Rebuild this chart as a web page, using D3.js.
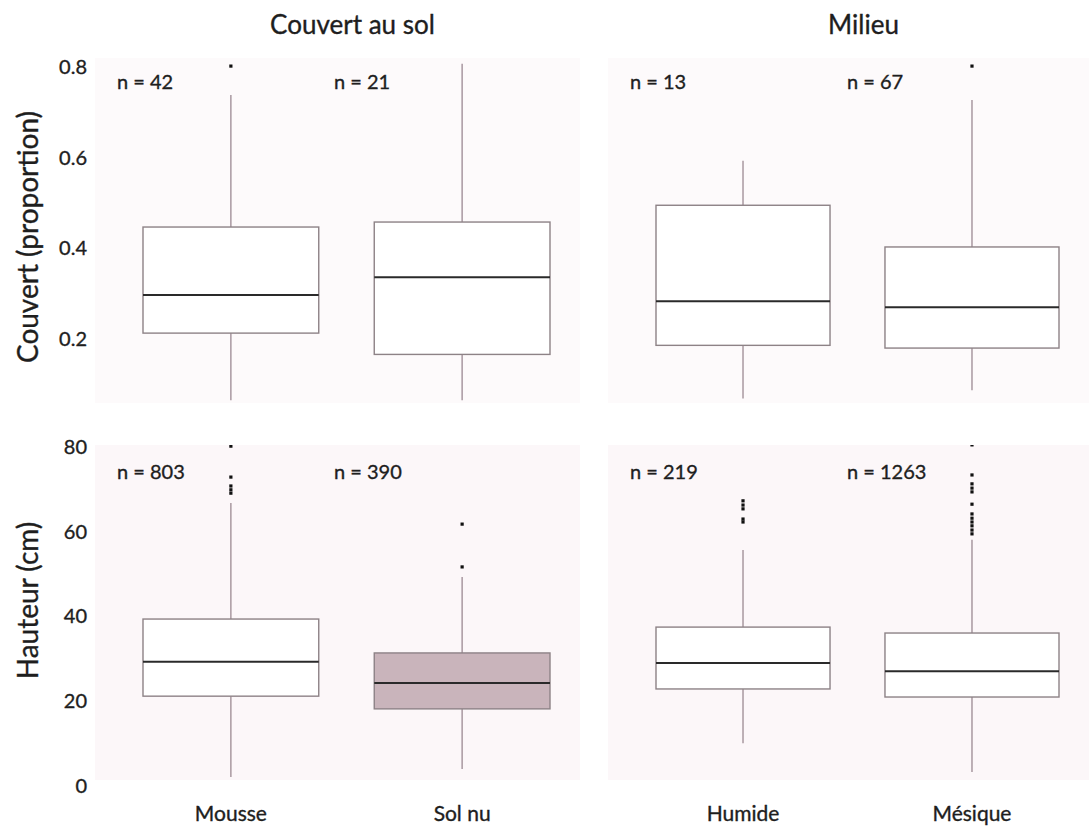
<!DOCTYPE html>
<html>
<head>
<meta charset="utf-8">
<script src="https://cdn.jsdelivr.net/npm/d3@7"></script>
<style>
  html, body { margin: 0; padding: 0; background: #ffffff; }
  svg { display: block; font-family: Lato, "Open Sans", sans-serif; }
  text { stroke: #1e1e1e; stroke-width: 0.35px; }
</style>
</head>
<body>
<svg id="chart" width="1089" height="827"></svg>
<script>
// ---------------- data ----------------
const groupTitles = ["Couvert au sol", "Milieu"];
const categoriesSol = ["Mousse", "Sol nu"];
const categoriesMilieu = ["Humide", "Mésique"];
const highlighted = ["Sol nu"]; // shaded box in lower panel

// Couvert (proportion) — order: Mousse, Sol nu, Humide, Mésique
const couvertN = [42, 21, 13, 67];
const couvertLow = [0.065, 0.065, 0.069, 0.087];
const couvertQ1 = [0.213, 0.166, 0.186, 0.180];
const couvertMedian = [0.297, 0.336, 0.283, 0.270];
const couvertQ3 = [0.447, 0.458, 0.495, 0.403];
const couvertHigh = [0.738, 0.807, 0.593, 0.727];
const couvertOutliers = [[0.802], [], [], [0.802]];
const couvertTicks = [0.2, 0.4, 0.6, 0.8];

// Hauteur (cm)
const hauteurN = [803, 390, 219, 1263];
const hauteurLow = [2.1, 4.0, 10.1, 3.3];
const hauteurQ1 = [21.2, 18.2, 22.9, 21.0];
const hauteurMedian = [29.3, 24.3, 29.0, 27.1];
const hauteurQ3 = [39.4, 31.4, 37.5, 36.1];
const hauteurHigh = [66.8, 49.3, 55.7, 58.1];
const hauteurOutliers = [
  [80.2, 72.9, 70.8, 69.9, 69.1],
  [61.8, 51.7],
  [67.3, 66.3, 65.4, 63.0, 62.3],
  [80.5, 73.4, 71.3, 70.3, 69.4, 66.5, 64.2, 63.2, 62.3, 61.4, 60.4, 59.5]
];
const hauteurTicks = [0, 20, 40, 60, 80];

// ---------------- layout ----------------
const svg = d3.select("#chart");
const allCats = categoriesSol.concat(categoriesMilieu);
const panelCols = [
  { cats: categoriesSol, left: 95, right: 580, title: groupTitles[0] },
  { cats: categoriesMilieu, left: 608, right: 1089, title: groupTitles[1] }
];
const rows = [
  {
    name: "Couvert (proportion)", top: 58, bottom: 403, bg: "#fdfafb",
    y: d3.scaleLinear().domain([0.2, 0.8]).range([339, 67]),
    ticks: couvertTicks, fmt: d3.format(".1f"),
    n: couvertN, low: couvertLow, q1: couvertQ1, med: couvertMedian,
    q3: couvertQ3, high: couvertHigh, out: couvertOutliers, shade: false
  },
  {
    name: "Hauteur (cm)", top: 445, bottom: 780, bg: "#fcf7f9",
    y: d3.scaleLinear().domain([0, 80]).range([786, 447]),
    ticks: hauteurTicks, fmt: d3.format("d"),
    n: hauteurN, low: hauteurLow, q1: hauteurQ1, med: hauteurMedian,
    q3: hauteurQ3, high: hauteurHigh, out: hauteurOutliers, shade: true
  }
];

const textColor = "#1e1e1e";
const boxStroke = "#8d8286";
const whiskerColor = "#a2919a";

const defs = svg.append("defs");

rows.forEach((row, ri) => {
  // y axis tick labels
  const axis = d3.axisLeft(row.y).tickValues(row.ticks).tickFormat(row.fmt)
    .tickSize(0).tickPadding(0);
  const ag = svg.append("g").attr("transform", "translate(87,0)").call(axis);
  ag.select(".domain").remove();
  ag.selectAll("text").attr("fill", textColor).style("font-size", "20px")
    .style("font-family", "Lato, 'Open Sans', sans-serif");

  // y axis title
  const midY = (row.y.range()[0] + row.y.range()[1]) / 2 + (ri === 0 ? 34 : -16);
  svg.append("text")
    .attr("transform", `translate(38,${midY}) rotate(-90)`)
    .attr("text-anchor", "middle")
    .attr("fill", textColor)
    .style("font-size", "28px")
    .text(row.name);

  panelCols.forEach((col, ci) => {
    const clipId = `clip-${ri}-${ci}`;
    defs.append("clipPath").attr("id", clipId).append("rect")
      .attr("x", col.left).attr("y", row.top)
      .attr("width", col.right - col.left).attr("height", row.bottom - row.top);

    // panel background (faint pink)
    svg.append("rect")
      .attr("x", col.left).attr("y", row.top)
      .attr("width", col.right - col.left).attr("height", row.bottom - row.top)
      .attr("fill", row.bg);

    const x = d3.scaleBand().domain(col.cats)
      .range([col.left + 48, col.right - 30]).paddingInner(0.24).paddingOuter(0);
    const labelX = d3.scalePoint().domain(col.cats)
      .range([col.left + 22, col.left + 239]);

    const g = svg.append("g").attr("clip-path", `url(#${clipId})`);

    col.cats.forEach(cat => {
      const i = allCats.indexOf(cat);
      const cx = x(cat) + x.bandwidth() / 2;
      const bw = x.bandwidth();
      // whiskers
      g.append("line").attr("x1", cx).attr("x2", cx)
        .attr("y1", row.y(row.q3[i])).attr("y2", row.y(row.high[i]))
        .attr("stroke", whiskerColor).attr("stroke-width", 1.4);
      g.append("line").attr("x1", cx).attr("x2", cx)
        .attr("y1", row.y(row.q1[i])).attr("y2", row.y(row.low[i]))
        .attr("stroke", whiskerColor).attr("stroke-width", 1.4);
      // box
      const shaded = row.shade && highlighted.includes(cat);
      g.append("rect")
        .attr("x", x(cat)).attr("width", bw)
        .attr("y", row.y(row.q3[i]))
        .attr("height", row.y(row.q1[i]) - row.y(row.q3[i]))
        .attr("fill", shaded ? "#c9b4bb" : "#ffffff")
        .attr("stroke", boxStroke).attr("stroke-width", 1.4);
      // median
      g.append("line").attr("x1", x(cat)).attr("x2", x(cat) + bw)
        .attr("y1", row.y(row.med[i])).attr("y2", row.y(row.med[i]))
        .attr("stroke", "#2a2a2a").attr("stroke-width", 2);
      // outliers
      g.selectAll(null).data(row.out[i]).enter().append("rect")
        .attr("x", cx - 1.6).attr("width", 3.2)
        .attr("y", d => row.y(d) - 1.6).attr("height", 3.2)
        .attr("fill", "#111");
      // n label
      svg.append("text")
        .attr("x", labelX(cat))
        .attr("y", row.top + (ri === 0 ? 31 : 34))
        .attr("fill", textColor)
        .style("font-size", "20px")
        .text(`n = ${row.n[i]}`);
    });

    // group title (top row only) and category labels (bottom row only)
    const xr = x.range();
    if (ri === 0) {
      svg.append("text")
        .attr("x", (xr[0] + xr[1]) / 2 + 6).attr("y", 34)
        .attr("text-anchor", "middle").attr("fill", textColor)
        .style("font-size", "26px").text(col.title);
    }
    if (ri === rows.length - 1) {
      col.cats.forEach(cat => {
        svg.append("text")
          .attr("x", x(cat) + x.bandwidth() / 2).attr("y", 821)
          .attr("text-anchor", "middle").attr("fill", textColor)
          .style("font-size", "21px").text(cat);
      });
    }
  });
});
</script>
</body>
</html>
